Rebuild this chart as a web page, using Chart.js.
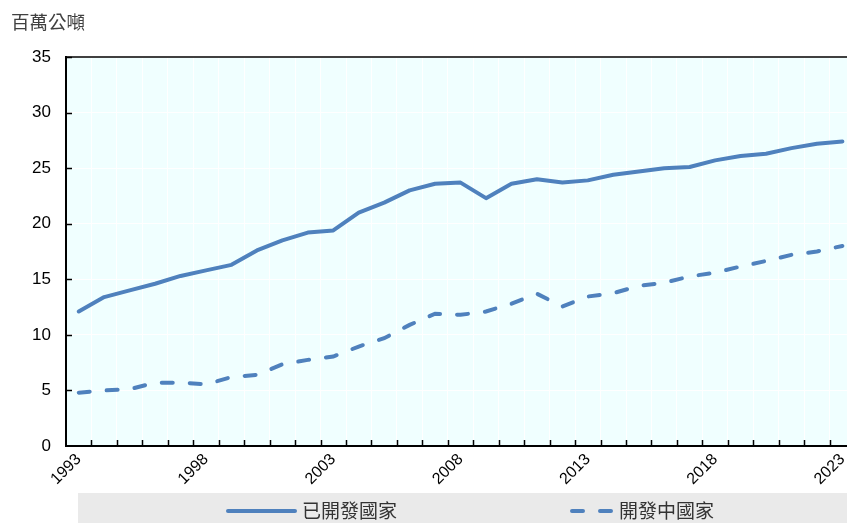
<!DOCTYPE html>
<html>
<head>
<meta charset="utf-8">
<script src="https://cdn.jsdelivr.net/npm/chart.js@4.4.1/dist/chart.umd.min.js"></script>
<style>
    html, body { margin: 0; padding: 0; background: #fff; overflow: hidden; }
    #wrap { width: 860px; height: 523px; }
</style>
</head>
<body>
<div id="wrap"><canvas id="lineChartTonnes" width="860" height="523"></canvas></div>
<script>
var years = ['1993','1994','1995','1996','1997','1998','1999','2000','2001','2002',
    '2003','2004','2005','2006','2007','2008','2009','2010','2011','2012',
    '2013','2014','2015','2016','2017','2018','2019','2020','2021','2022','2023'];

// 已開發國家
var developed = [12.1, 13.4, 14.0, 14.6, 15.3, 15.8, 16.3, 17.6, 18.5, 19.2,
    19.4, 21.0, 21.9, 23.0, 23.6, 23.7, 22.3, 23.6, 24.0, 23.7,
    23.9, 24.4, 24.7, 25.0, 25.1, 25.7, 26.1, 26.3, 26.8, 27.2, 27.4];

// 開發中國家
var developing = [4.8, 5.0, 5.1, 5.7, 5.7, 5.55, 6.2, 6.4, 7.35, 7.75,
    8.05, 8.95, 9.7, 10.9, 11.9, 11.8, 12.1, 12.8, 13.7, 12.55,
    13.45, 13.75, 14.4, 14.7, 15.25, 15.6, 16.15, 16.65, 17.2, 17.5, 18.0];

var yTicks = [0, 5, 10, 15, 20, 25, 30, 35];
var unitLabel = '百萬公噸';

var blue = 'rgb(79, 129, 189)';
var narrow = "'Liberation Sans Narrow', 'Arial Narrow', 'Liberation Sans', Arial, sans-serif";
var cjk = "'Noto Sans CJK TC', 'Noto Sans CJK SC', sans-serif";

// plot background, top border, inner tick marks, unit text and legend
var decorations = {
    id: 'decorations',
    beforeDraw: function(chart) {
        var a = chart.chartArea;
        var ctx = chart.ctx;
        ctx.save();
        ctx.fillStyle = '#F0FFFF';
        ctx.fillRect(a.left, a.top, a.right - a.left, a.bottom - a.top);
        ctx.restore();
    },
    afterDraw: function(chart) {
        var a = chart.chartArea;
        var ctx = chart.ctx;
        var x = chart.scales.x;
        var y = chart.scales.y;
        ctx.save();

        ctx.strokeStyle = '#000';
        ctx.lineWidth = 1.5;
        ctx.beginPath();
        ctx.moveTo(a.left, a.top);
        ctx.lineTo(a.right, a.top);
        ctx.stroke();

        // ticks between categories, pointing up
        ctx.lineWidth = 1.5;
        ctx.beginPath();
        for (var i = 0; i < years.length - 1; i++) {
            var px = Math.round((x.getPixelForValue(i) + x.getPixelForValue(i + 1)) / 2) + 0.5;
            ctx.moveTo(px, a.bottom);
            ctx.lineTo(px, a.bottom - 6);
        }
        // y ticks, pointing right
        for (var j = 1; j < yTicks.length; j++) {
            var py = Math.round(y.getPixelForValue(yTicks[j])) + 0.5;
            ctx.moveTo(a.left, py);
            ctx.lineTo(a.left + 6, py);
        }
        ctx.stroke();

        ctx.fillStyle = '#404040';
        ctx.font = '18.5px ' + cjk;
        ctx.textBaseline = 'middle';
        ctx.textAlign = 'left';
        ctx.fillText(unitLabel, 11, 22);

        // legend
        ctx.fillStyle = '#EAEAEA';
        ctx.fillRect(78, 493, 800, 30);
        var ds = chart.data.datasets;
        ctx.lineWidth = 4;
        ctx.strokeStyle = ds[0].borderColor;
        ctx.lineCap = 'round';
        ctx.beginPath();
        ctx.moveTo(228, 511);
        ctx.lineTo(295, 511);
        ctx.stroke();
        ctx.setLineDash([11, 17]);
        ctx.beginPath();
        ctx.moveTo(572, 511);
        ctx.lineTo(612, 511);
        ctx.stroke();
        ctx.setLineDash([]);
        ctx.fillStyle = '#333';
        ctx.font = '19px ' + cjk;
        ctx.fillText(ds[0].label, 302, 511);
        ctx.fillText(ds[1].label, 619, 511);
        ctx.restore();
    }
};

function loadTonnesChart() {
    var ctx = document.getElementById('lineChartTonnes').getContext('2d');
    new Chart(ctx, {
        type: 'line',
        data: {
            labels: years,
            datasets: [{
                label: '已開發國家',
                data: developed,
                borderColor: blue,
                borderWidth: 4,
                pointRadius: 0,
                tension: 0,
                borderCapStyle: 'round',
                borderJoinStyle: 'round'
            }, {
                label: '開發中國家',
                data: developing,
                borderColor: blue,
                borderWidth: 4,
                borderDash: [11, 17],
                borderCapStyle: 'round',
                pointRadius: 0,
                tension: 0
            }]
        },
        options: {
            responsive: false,
            animation: false,
            layout: { padding: { top: 57, left: 0, right: 2.5, bottom: 37 } },
            plugins: {
                legend: { display: false },
                tooltip: { enabled: false }
            },
            scales: {
                x: {
                    type: 'category',
                    offset: true,
                    grid: { color: '#FFFFFF', lineWidth: 1, offset: true, drawTicks: false },
                    border: { display: true, color: '#000', width: 2 },
                    ticks: {
                        autoSkip: false,
                        maxRotation: 45,
                        minRotation: 45,
                        padding: 4,
                        color: '#000',
                        font: { family: narrow, size: 16 },
                        callback: function(value, index) {
                            return (index % 5 === 0) ? years[index] : '';
                        }
                    },
                    afterFit: function(scale) { scale.height = 40; }
                },
                y: {
                    min: 0,
                    max: 35,
                    grid: { color: '#FFFFFF', lineWidth: 1, drawTicks: false },
                    border: { display: true, color: '#000', width: 2 },
                    ticks: {
                        stepSize: 5,
                        padding: 15,
                        color: '#000',
                        font: { family: narrow, size: 17 }
                    },
                    afterFit: function(scale) { scale.width = 66; }
                }
            }
        },
        plugins: [decorations]
    });
}

window.onload = function(e) {
    loadTonnesChart();
};
</script>
</body>
</html>
